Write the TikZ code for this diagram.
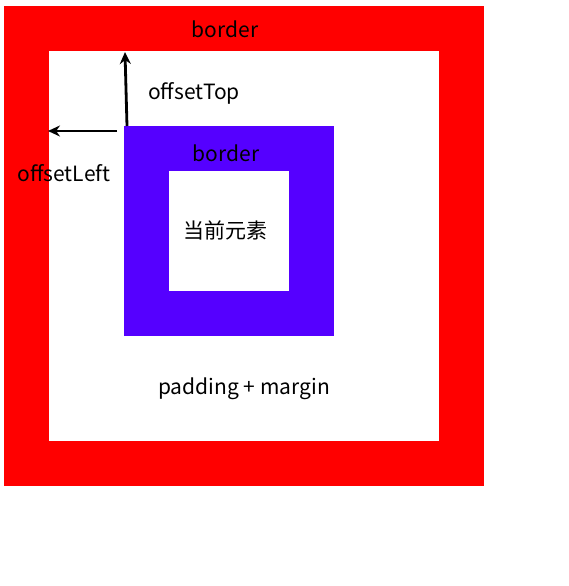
\documentclass[tikz,border=0pt]{standalone}
\usepackage{fontspec}
\setmainfont{Noto Sans CJK SC}
\usetikzlibrary{arrows.meta,positioning}
\definecolor{boxred}{HTML}{FF0000}
\definecolor{boxblue}{HTML}{5500FF}
\tikzset{>=Stealth}
\tikzset{
    box/.style={draw=none,minimum size=#1,inner sep=0pt},
    lbl/.style={font=\fontsize{21}{25}\selectfont,inner sep=0pt},
    offarrow/.style={->,line width=2.8pt,>={Stealth[length=12pt,width=11pt]}}
}
\begin{document}
\begin{tikzpicture}[x=1pt,y=-1pt]
    \useasboundingbox (0,0) rectangle (569,586);
    \node[box=480pt,fill=boxred] at (244,246) (outer) {};
    \node[box=390pt,fill=white] at (244,246) (space) {};
    \node[box=210pt,fill=boxblue] at (229,231) (border) {};
    \node[box=120pt,fill=white] at (229,231) (elem) {};
    \coordinate (topstart) at (127,126);
    \coordinate (topend) at (125,52);
    \coordinate (leftstart) at (117,131);
    \coordinate (leftend) at (48,131);
    \draw[offarrow] (topstart) -- (topend);
    \draw[offarrow] (leftstart) -- (leftend);
    \node[lbl] at (225,29.5) (outerlbl) {border};
    \node[lbl] at (194,93) (toplbl) {offsetTop};
    \node[lbl] at (64,173) (leftlbl) {offsetLeft};
    \node[lbl] at (226,153) (borderlbl) {border};
    \node[lbl] at (225,230) (elemlbl) {当前元素};
    \node[lbl] at (244,389) (padlbl) {padding + margin};
\end{tikzpicture}
\end{document}
